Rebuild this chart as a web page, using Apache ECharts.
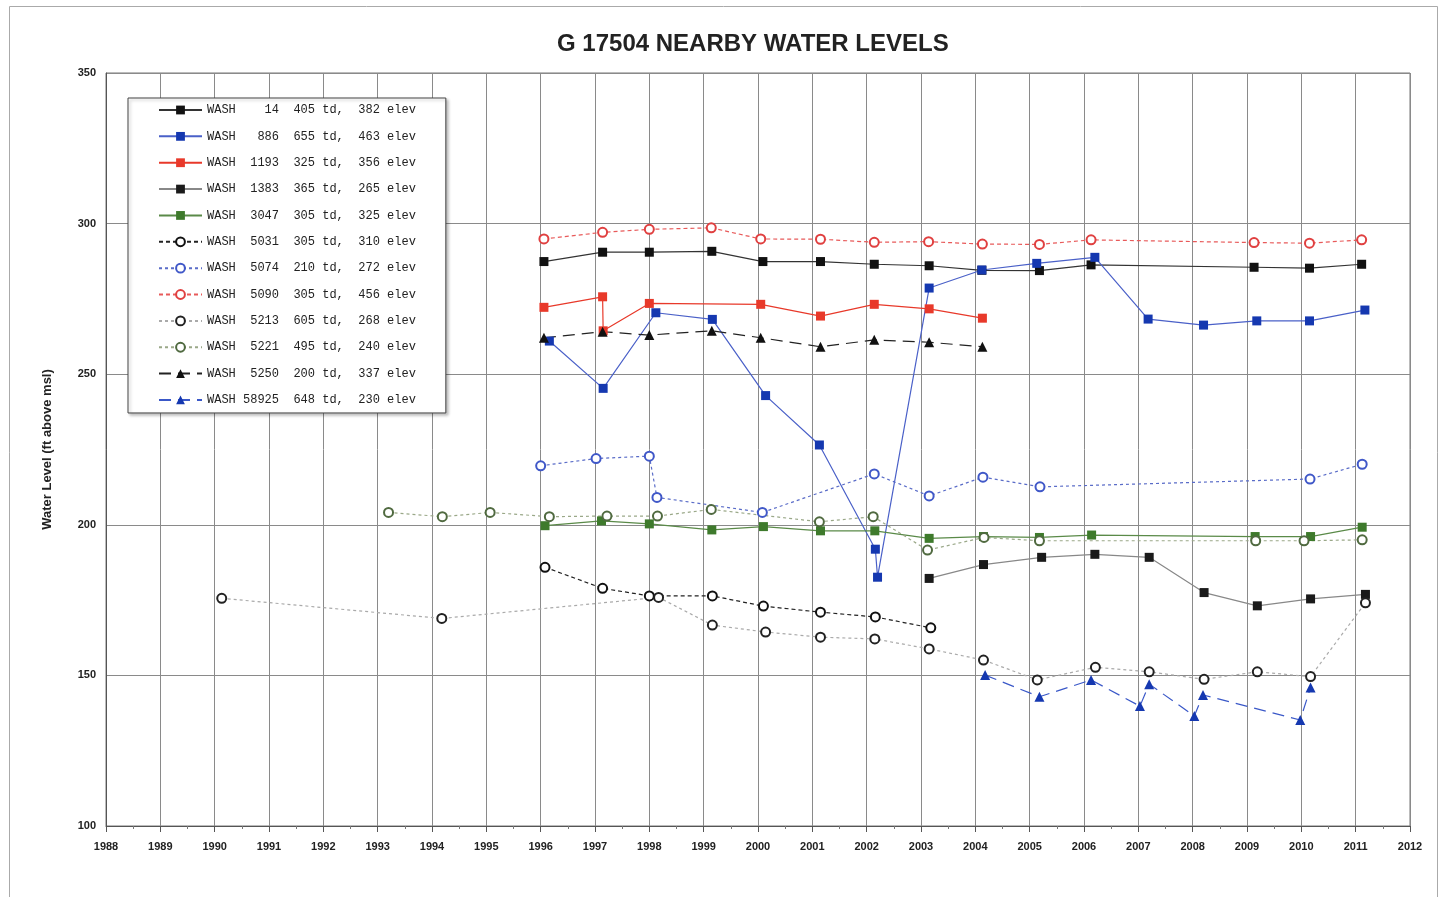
<!DOCTYPE html>
<html><head><meta charset="utf-8">
<script src="https://cdn.jsdelivr.net/npm/echarts@6/dist/echarts.min.js"></script>
<style>html,body{margin:0;padding:0;background:#fff}#c{width:1442px;height:897px}</style>
</head><body><div id="c"></div>
<script>
// ---- data (year as decimal, water level ft above msl) ----
const w14_x = [1996.06,1997.14,1998.0,1999.15,2000.09,2001.15,2002.14,2003.15,2004.12,2005.18,2006.13,2009.13,2010.15,2011.11];
const w14_y = [287.4,290.5,290.5,290.8,287.4,287.4,286.5,286.0,284.5,284.4,286.3,285.5,285.2,286.5];

const w886_x = [1996.16,1997.15,1998.12,1999.16,2000.14,2001.13,2002.16,2002.2,2003.15,2004.12,2005.13,2006.2,2007.18,2008.2,2009.18,2010.15,2011.17];
const w886_y = [261.0,245.3,270.4,268.2,242.9,226.5,191.9,182.6,278.6,284.6,286.8,288.8,268.3,266.3,267.7,267.7,271.3];

const w1193_x = [1996.06,1997.14,1997.15,1998.0,2000.05,2001.15,2002.14,2003.15,2004.13];
const w1193_y = [272.2,275.7,264.4,273.5,273.2,269.3,273.2,271.7,268.6];

const w1383_x = [2003.15,2004.15,2005.22,2006.2,2007.2,2008.21,2009.19,2010.17,2011.18];
const w1383_y = [182.2,186.8,189.2,190.2,189.2,177.5,173.1,175.4,176.9];

const w3047_x = [1996.08,1997.12,1998.0,1999.15,2000.1,2001.15,2002.15,2003.15,2004.15,2005.18,2006.14,2009.15,2010.17,2011.12];
const w3047_y = [199.7,201.3,200.3,198.3,199.4,198.0,198.0,195.5,196.1,195.8,196.6,196.1,196.1,199.2];

const w5031_x = [1996.08,1997.14,1998.0,1999.16,2000.1,2001.15,2002.16,2003.18];
const w5031_y = [185.9,178.9,176.4,176.4,173.0,171.0,169.4,165.8];

const w5074_x = [1996.0,1997.02,1998.0,1998.14,2000.08,2002.14,2003.15,2004.14,2005.19,2010.16,2011.12];
const w5074_y = [219.6,222.0,222.8,209.1,204.1,216.9,209.6,215.8,212.6,215.2,220.1];

const w5090_x = [1996.06,1997.14,1998.0,1999.14,2000.05,2001.15,2002.14,2003.14,2004.13,2005.18,2006.13,2009.13,2010.15,2011.11];
const w5090_y = [294.9,297.1,298.1,298.6,294.9,294.8,293.8,294.0,293.2,293.1,294.6,293.7,293.5,294.6];

const w5213_x = [1990.13,1994.18,1998.17,1999.16,2000.14,2001.15,2002.15,2003.15,2004.15,2005.14,2006.21,2007.2,2008.21,2009.19,2010.17,2011.18];
const w5213_y = [175.6,168.9,175.9,166.7,164.4,162.7,162.1,158.8,155.1,148.5,152.7,151.2,148.7,151.2,149.6,174.1];

const w5221_x = [1993.2,1994.19,1995.07,1996.16,1997.22,1998.15,1999.14,2001.13,2002.12,2003.12,2004.16,2005.18,2009.16,2010.05,2011.12];
const w5221_y = [204.1,202.7,204.1,202.7,202.9,202.9,205.1,201.0,202.7,191.6,195.8,194.7,194.7,194.7,195.0];

const w5250_x = [1996.06,1997.14,1998.0,1999.15,2000.05,2001.15,2002.14,2003.15,2004.13];
const w5250_y = [262.1,264.1,263.0,264.4,262.1,259.1,261.4,260.6,259.1];

const w58925_x = [2004.18,2005.18,2006.13,2007.03,2007.2,2008.03,2008.19,2009.98,2010.17];
const w58925_y = [150.1,142.9,148.5,139.8,147.1,136.5,143.5,135.2,146.0];

const wells = ['14','886','1193','1383','3047','5031','5074','5090','5213','5221','5250','58925'];
const wellTd = ['405','655','325','365','305','305','210','305','605','495','200','648'];
const wellElev = ['382','463','356','265','325','310','272','456','268','240','337','230'];

const titleText = 'G 17504 NEARBY WATER LEVELS';
const yAxisName = 'Water Level (ft above msl)';

// ---- build ----
function zip(xs, ys){ return xs.map((x,i)=>[x, ys[i]]); }
function pad(s,n){ s=String(s); while(s.length<n) s=' '+s; return s; }
function label(i){ return 'WASH ' + pad(wells[i],5) + '  ' + wellTd[i] + ' td,  ' + wellElev[i] + ' elev'; }

const xs = [w14_x,w886_x,w1193_x,w1383_x,w3047_x,w5031_x,w5074_x,w5090_x,w5213_x,w5221_x,w5250_x,w58925_x];
const ys = [w14_y,w886_y,w1193_y,w1383_y,w3047_y,w5031_y,w5074_y,w5090_y,w5213_y,w5221_y,w5250_y,w58925_y];

const styles = [
  {sym:'rect', fill:'#111', border:'#111', line:'#333', type:'solid', w:1.2},
  {sym:'rect', fill:'#1538b0', border:'#1538b0', line:'#4a60c8', type:'solid', w:1.2},
  {sym:'rect', fill:'#e8392a', border:'#e8392a', line:'#e8392a', type:'solid', w:1.2},
  {sym:'rect', fill:'#1a1a1a', border:'#1a1a1a', line:'#888', type:'solid', w:1.2},
  {sym:'rect', fill:'#3e7a2c', border:'#3e7a2c', line:'#5a8a48', type:'solid', w:1.2},
  {sym:'circle', fill:'#fff', border:'#111', line:'#222', type:[4,3], w:1.2},
  {sym:'circle', fill:'#fff', border:'#4058c8', line:'#5a6cc8', type:[3,3], w:1.2},
  {sym:'circle', fill:'#fff', border:'#e04040', line:'#e85a5a', type:[4,3], w:1.2},
  {sym:'circle', fill:'#fff', border:'#222', line:'#aaa', type:[3,3], w:1.2},
  {sym:'circle', fill:'#fff', border:'#506a40', line:'#9aa888', type:[3,3], w:1.2},
  {sym:'triangle', fill:'#111', border:'#111', line:'#222', type:[12,7], w:1.2},
  {sym:'triangle', fill:'#1538b0', border:'#1538b0', line:'#3a58c8', type:[12,7], w:1.2}
];

const series = wells.map((w,i)=>{
  const s = styles[i];
  const circ = s.sym==='circle';
  return {
    name: label(i), type:'line', data: zip(xs[i], ys[i]),
    symbol: s.sym, symbolSize: circ ? 9 : (s.sym==='triangle'?10:9),
    showAllSymbol: true, animation:false,
    lineStyle:{color:s.line, width:s.w, type:s.type},
    itemStyle:{color:s.fill, borderColor:s.border, borderWidth: circ?2:0, opacity:1},
    emphasis:{disabled:true}
  };
});

const chart = echarts.init(document.getElementById('c'), null, {renderer:'canvas'});
chart.setOption({
  backgroundColor:'#fff',
  animation:false,
  title:{text:titleText, left:552, top:27, textStyle:{fontFamily:'Liberation Sans, Arial', fontSize:24, fontWeight:'bold', color:'#222'}},
  grid:{left:106, right:32, top:73, bottom:71, show:true, borderColor:'#777', borderWidth:1, containLabel:false},
  legend:{
    orient:'vertical', left:128, top:98,
    width:317,
    padding:[6,30,7,30],
    itemWidth:43, itemHeight:11, itemGap:14.36,
    backgroundColor:'#fff', borderColor:'#444', borderWidth:1,
    shadowColor:'rgba(0,0,0,0.25)', shadowBlur:3, shadowOffsetX:2, shadowOffsetY:2,
    textStyle:{fontFamily:'Liberation Mono, Courier New, monospace', fontSize:12, color:'#222'},
    data: series.map(s=>s.name),
    selectedMode:false
  },
  xAxis:{
    type:'value', min:1988, max:2012, interval:1,
    axisLine:{show:true, lineStyle:{color:'#555'}},
    axisTick:{show:true, length:6, lineStyle:{color:'#555'}},
    minorTick:{show:true, splitNumber:2, length:3, lineStyle:{color:'#777'}},
    splitLine:{show:true, lineStyle:{color:'#8a8a8a', width:1}},
    axisLabel:{margin:15, fontFamily:'Liberation Sans, Arial', fontSize:11, fontWeight:'bold', color:'#222', formatter:v=>String(v)}
  },
  yAxis:{
    type:'value', min:100, max:350, interval:50,
    name:yAxisName, nameLocation:'middle', nameGap:52, nameRotate:90,
    nameTextStyle:{fontFamily:'Liberation Sans, Arial', fontSize:13, fontWeight:'bold', color:'#222'},
    axisLine:{show:true, lineStyle:{color:'#555'}},
    axisTick:{show:false},
    splitLine:{show:true, lineStyle:{color:'#8a8a8a', width:1}},
    axisLabel:{margin:10, fontFamily:'Liberation Sans, Arial', fontSize:11, fontWeight:'bold', color:'#222'}
  },
  graphic:[{type:'rect', left:7, top:4, shape:{width:1428, height:900}, style:{fill:'none', stroke:'#aaa', lineWidth:1}, silent:true, z:-1}],
  series: series
});
</script></body></html>
